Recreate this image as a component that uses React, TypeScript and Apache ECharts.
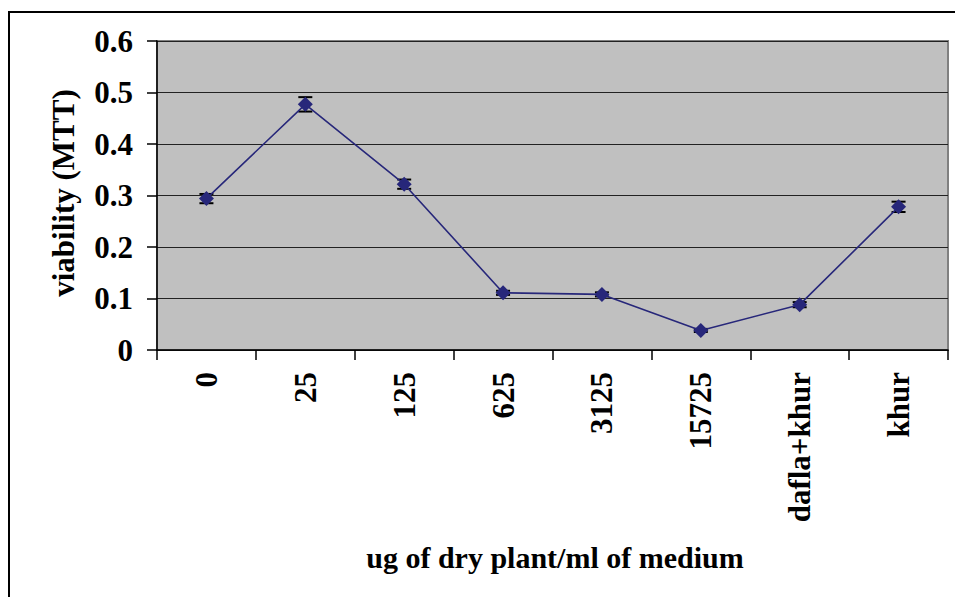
import React, { useEffect, useRef } from "react";
import * as echarts from "echarts";

const categories = ["0", "25", "125", "625", "3125", "15725", "dafla+khur", "khur"];
const viability = [0.294, 0.477, 0.322, 0.111, 0.108, 0.038, 0.088, 0.278];
const errors = [0.009, 0.014, 0.009, 0.004, 0.004, 0.003, 0.005, 0.010];
const yTicks = { min: 0, max: 0.6, interval: 0.1 };

const FONT = "'Liberation Serif', 'Times New Roman', serif";

export default function App() {
  const ref = useRef<HTMLDivElement>(null);
  useEffect(() => {
    if (!ref.current) return;
    const chart = echarts.init(ref.current, null, { renderer: "svg" });
    const option = {
      animation: false,
      backgroundColor: "#ffffff",
      grid: {
        left: 157,
        top: 41,
        width: 791,
        height: 309,
        show: true,
        backgroundColor: "#c0c0c0",
        borderColor: "#808080",
        borderWidth: 2,
      },
      xAxis: {
        type: "category",
        data: categories,
        boundaryGap: true,
        axisLine: { show: true, lineStyle: { color: "#000", width: 1.5 } },
        axisTick: { show: true, length: 10, lineStyle: { color: "#000", width: 1.5 } },
        axisLabel: {
          rotate: 90,
          interval: 0,
          margin: 22,
          color: "#000",
          fontFamily: FONT,
          fontWeight: "bold",
          fontSize: 31,
        },
        splitLine: { show: false },
      },
      yAxis: {
        type: "value",
        min: yTicks.min,
        max: yTicks.max,
        interval: yTicks.interval,
        axisLine: { show: true, lineStyle: { color: "#000", width: 1.5 } },
        axisTick: { show: true, length: 10, lineStyle: { color: "#000", width: 1.5 } },
        axisLabel: {
          margin: 24,
          color: "#000",
          fontFamily: FONT,
          fontWeight: "bold",
          fontSize: 31,
          formatter: (v: number) => (v === 0 ? "0" : v.toFixed(1)),
        },
        splitLine: { show: true, lineStyle: { color: "#222", width: 1.2 } },
      },
      graphic: [
        {
          type: "rect",
          shape: { x: 9, y: 12, width: 960, height: 600 },
          style: { fill: "none", stroke: "#000", lineWidth: 2 },
          silent: true,
        },
        {
          type: "text",
          x: 63,
          y: 193,
          rotation: Math.PI / 2,
          style: {
            text: "viability (MTT)",
            fontFamily: FONT,
            fontWeight: "bold",
            fontSize: 31,
            fill: "#000",
            align: "center",
            verticalAlign: "middle",
          },
        },
        {
          type: "text",
          x: 555,
          y: 557,
          style: {
            text: "ug of dry plant/ml of medium",
            fontFamily: FONT,
            fontWeight: "bold",
            fontSize: 30,
            fill: "#000",
            align: "center",
            verticalAlign: "middle",
          },
        },
      ],
      series: [
        {
          type: "custom",
          z: 3,
          data: viability.map((v, i) => [i, v, errors[i]]),
          renderItem: (params: any, api: any) => {
            const i = api.value(0);
            const v = api.value(1);
            const e = api.value(2);
            const top = api.coord([i, v + e]);
            const bot = api.coord([i, v - e]);
            const hw = 7;
            const st = { stroke: "#000", lineWidth: 2 };
            return {
              type: "group",
              children: [
                { type: "line", shape: { x1: top[0], y1: top[1], x2: bot[0], y2: bot[1] }, style: st },
                { type: "line", shape: { x1: top[0] - hw, y1: top[1], x2: top[0] + hw, y2: top[1] }, style: st },
                { type: "line", shape: { x1: bot[0] - hw, y1: bot[1], x2: bot[0] + hw, y2: bot[1] }, style: st },
              ],
            };
          },
        },
        {
          type: "line",
          z: 4,
          data: viability,
          symbol: "diamond",
          symbolSize: 15,
          lineStyle: { color: "#27277a", width: 1.6 },
          itemStyle: { color: "#27277a" },
        },
      ],
    };
    chart.setOption(option as any);
    return () => chart.dispose();
  }, []);
  return (
    <div
      ref={ref}
      style={{ position: "absolute", left: 0, top: 0, width: 955, height: 597 }}
    />
  );
}
